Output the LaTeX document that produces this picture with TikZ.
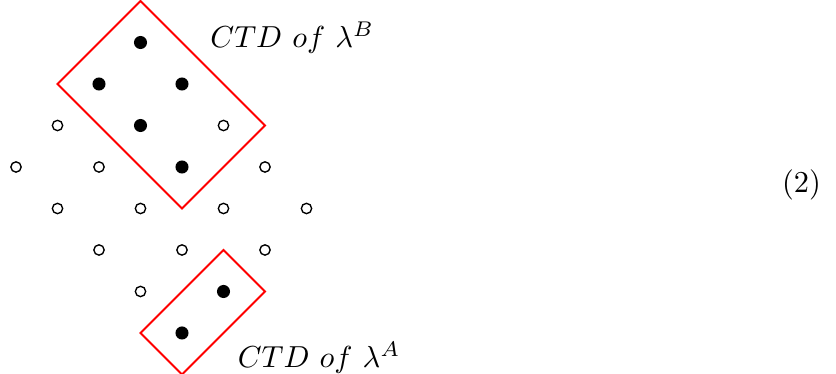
\documentclass[tikz,border=0pt]{standalone}
\usepackage{tikz}
\begin{document}
\begin{tikzpicture}[
  x=0.48cm, y=0.48cm,
  % lattice points
  full/.style={circle, fill=black, inner sep=0pt, minimum size=4.3pt},
  empty/.style={circle, draw=black, line width=0.45pt, fill=white,
                inner sep=0pt, minimum size=3.4pt},
  % content boxes
  ctd/.style={draw=red, line width=0.6pt, line join=miter},
  % labels
  lbl/.style={anchor=base west, inner sep=0pt},
]
\useasboundingbox (-0.386,-4.988) rectangle (19.76,4.024);

% ── Boxes of lambda^B and lambda^A ───────────────────────────────────────
\coordinate (bT) at (3,4);
\coordinate (bL) at (1,2);
\coordinate (bB) at (4,-1);
\coordinate (bR) at (6,1);
\draw[ctd] (bT) -- (bL) -- (bB) -- (bR) -- cycle;

\coordinate (aT) at (5,-2);
\coordinate (aL) at (3,-4);
\coordinate (aB) at (4,-5);
\coordinate (aR) at (6,-3);
\draw[ctd] (aT) -- (aL) -- (aB) -- (aR) -- cycle;

% ── Filled cells ─────────────────────────────────────────────────────────
\node[full] (f33) at (3,3) {};
\node[full] (f22) at (2,2) {};
\node[full] (f42) at (4,2) {};
\node[full] (f31) at (3,1) {};
\node[full] (f40) at (4,0) {};
\node[full] (f5m3) at (5,-3) {};
\node[full] (f4m4) at (4,-4) {};

% ── Empty cells ──────────────────────────────────────────────────────────
\node[empty] (o11) at (1,1) {};
\node[empty] (o51) at (5,1) {};
\node[empty] (o00) at (0,0) {};
\node[empty] (o20) at (2,0) {};
\node[empty] (o60) at (6,0) {};
\node[empty] (o1m1) at (1,-1) {};
\node[empty] (o3m1) at (3,-1) {};
\node[empty] (o5m1) at (5,-1) {};
\node[empty] (o7m1) at (7,-1) {};
\node[empty] (o2m2) at (2,-2) {};
\node[empty] (o4m2) at (4,-2) {};
\node[empty] (o6m2) at (6,-2) {};
\node[empty] (o3m3) at (3,-3) {};

% ── Labels ───────────────────────────────────────────────────────────────
\node[lbl] (labB) at (4.67,2.89) {$CTD\ of\ \lambda^B$};
\node[lbl] (labA) at (5.33,-4.84) {$CTD\ of\ \lambda^A$};
\node[anchor=base, inner sep=0pt] (eqno) at (18.93,-0.62) {(2)};

\end{tikzpicture}
\end{document}
